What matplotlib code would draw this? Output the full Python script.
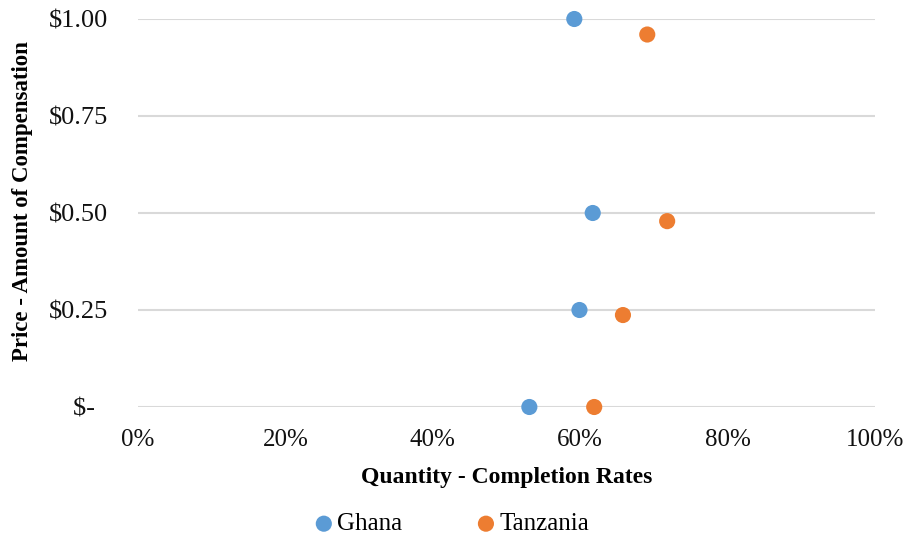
import matplotlib
matplotlib.use("Agg")
import matplotlib.pyplot as plt
from matplotlib.ticker import FuncFormatter

plt.rcParams['font.family'] = ['Liberation Serif', 'DejaVu Serif']

# Completion rate (fraction) vs. compensation amount (USD)
ghana_rate = [0.531, 0.599, 0.617, 0.592]
ghana_price = [0.00, 0.25, 0.50, 1.00]
tanzania_rate = [0.619, 0.658, 0.718, 0.691]
tanzania_price = [0.00, 0.237, 0.479, 0.960]

x_ticks = [0, 0.2, 0.4, 0.6, 0.8, 1.0]
y_ticks = [0, 0.25, 0.5, 0.75, 1.0]

blue = '#5B9BD5'
orange = '#ED7D31'

fig = plt.figure(figsize=(9.04, 5.37), dpi=100)
ax = fig.add_axes([138/904, 1-407/537, (875-138)/904, (407-19)/537])

ax.scatter(ghana_rate, ghana_price, s=135, color=blue, label='Ghana',
           zorder=3, clip_on=False, edgecolors='none')
ax.scatter(tanzania_rate, tanzania_price, s=135, color=orange, label='Tanzania',
           zorder=3, clip_on=False, edgecolors='none')

ax.set_xlim(0, 1)
ax.set_ylim(0, 1)
ax.set_xticks(x_ticks)
ax.set_yticks(y_ticks)
ax.xaxis.set_major_formatter(FuncFormatter(lambda v, p: f"{v*100:.0f}%"))
# accounting-style currency: zero shown as a dash
ax.yaxis.set_major_formatter(FuncFormatter(
    lambda v, p: "$-  " if v == 0 else f"${v:.2f}"))

ax.grid(axis='y', color='#d9d9d9', linewidth=1.5, zorder=0)
ax.set_axisbelow(True)
for s in ax.spines.values():
    s.set_visible(False)
ax.tick_params(length=0, colors='#111111')
ax.tick_params(axis='x', labelsize=18, pad=16)
ax.tick_params(axis='y', labelsize=19, pad=21.5)

ax.set_xlabel('Quantity - Completion Rates', fontsize=17, fontweight='bold',
              labelpad=11)
ax.set_ylabel('Price - Amount of Compensation', fontsize=16.5, fontweight='bold')
ax.yaxis.set_label_coords(-(138-33)/737, 0.53)

leg = fig.legend(loc='center', bbox_to_anchor=(452/904, 1-524/537), ncol=2,
                 frameon=False, fontsize=18, handlelength=0.7,
                 handletextpad=0.18, columnspacing=3.0, markerscale=1.0)

fig.savefig('out.png', dpi=100)
